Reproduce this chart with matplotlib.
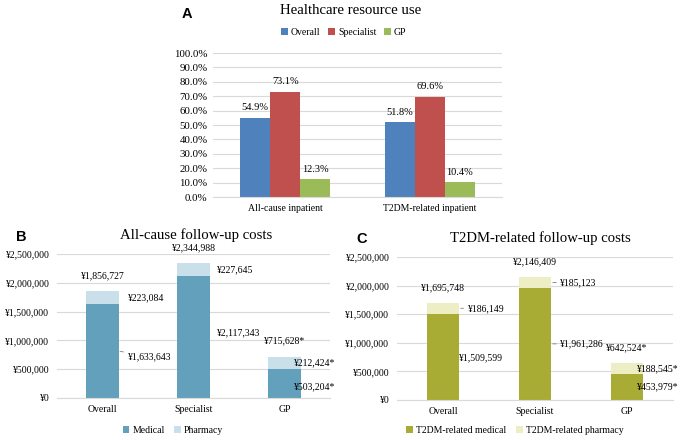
import matplotlib.pyplot as plt
import numpy as np
from matplotlib.ticker import FuncFormatter

plt.rcParams["font.family"] = ["Liberation Serif", "DejaVu Serif"]
plt.rcParams["font.size"] = 7.5

# Panel A: healthcare resource use (%)
use_groups = ["All-cause inpatient", "T2DM-related inpatient"]
use_overall = [54.9, 51.8]
use_specialist = [73.1, 69.6]
use_gp = [12.3, 10.4]

# Panel B: all-cause follow-up costs (yen)
cost_groups = ["Overall", "Specialist", "GP"]
allcause_medical = [1633643, 2117343, 503204]
allcause_pharmacy = [223084, 227645, 212424]
allcause_star = ["", "", "*"]

# Panel C: T2DM-related follow-up costs (yen)
t2dm_medical = [1509599, 1961286, 453979]
t2dm_pharmacy = [186149, 185123, 188545]
t2dm_star = ["", "", "*"]

fig = plt.figure(figsize=(6.85, 4.4), dpi=100)
grid_col = "#d9d9d9"


def clean(ax):
    for s in ["left", "right", "top"]:
        ax.spines[s].set_visible(False)
    ax.spines["bottom"].set_color(grid_col)
    ax.tick_params(length=0)
    ax.yaxis.grid(True, color=grid_col, linewidth=0.8)
    ax.set_axisbelow(True)


# ---- A ----
axA = fig.add_axes([0.311, 0.552, 0.422, 0.3275])
x = np.arange(len(use_groups))
w = 0.208
series = [("Overall", use_overall, "#4f81bd"),
          ("Specialist", use_specialist, "#c0504d"),
          ("GP", use_gp, "#9bbb59")]
for i, (name, vals, col) in enumerate(series):
    bars = axA.bar(x + (i - 1) * w, vals, w, color=col, label=name)
    for b, v in zip(bars, vals):
        axA.annotate(f"{v:.1f}%", (b.get_x() + b.get_width() / 2, v),
                     xytext=(0, 4), textcoords="offset points",
                     ha="center", va="bottom", fontsize=7.5)
axA.set_xlim(-0.5, 1.5)
axA.set_ylim(0, 100)
axA.set_yticks(np.arange(0, 101, 10))
axA.yaxis.set_major_formatter(FuncFormatter(lambda v, p: f"{v:.1f}%"))
axA.set_xticks(x)
axA.set_xticklabels(use_groups)
clean(axA)
axA.tick_params(axis="y", pad=4, labelsize=7.8)
axA.tick_params(axis="x", pad=5, labelsize=7)
fig.legend(*axA.get_legend_handles_labels(), loc="center", bbox_to_anchor=(0.502, 0.927),
           ncol=3, frameon=False, fontsize=7, handlelength=0.7, handleheight=0.7,
           handletextpad=0.3, columnspacing=0.8)
fig.text(351 / 685, 1 - 11 / 440, "Healthcare resource use", ha="center", va="center", fontsize=10.6)
fig.text(187 / 685, 1 - 14 / 440, "A", ha="center", va="center", fontsize=10.5,
         fontweight="bold", family="Liberation Sans")


def cost_panel(rect, medical, pharmacy, star, cols, names, title, letter, letter_x,
               title_x, legend_x, pharm_off, med_off, leaders):
    ax = fig.add_axes(rect)
    xc = np.arange(len(cost_groups))
    bw = 0.355
    ax.bar(xc, medical, bw, color=cols[0], label=names[0])
    ax.bar(xc, pharmacy, bw, bottom=medical, color=cols[1], label=names[1])
    for i in range(len(xc)):
        m, p = medical[i], pharmacy[i]
        right = xc[i] + bw / 2
        ax.annotate(f"¥{m + p:,}{star[i]}", (xc[i], m + p), xytext=(0, 8),
                    textcoords="offset points", ha="center", va="bottom", fontsize=7)
        for val, mid, off, lead in [(p, m + p / 2, pharm_off[i], leaders[i][0]),
                                    (m, m / 2, med_off[i], leaders[i][1])]:
            kw = {}
            if lead:
                kw["arrowprops"] = dict(arrowstyle="-", color="#7f7f7f", lw=0.6,
                                        shrinkA=1, shrinkB=1)
            ax.annotate(f"¥{val:,}{star[i]}", (right, mid), xytext=off,
                        textcoords="offset points", ha="left", va="center",
                        fontsize=7, **kw)
    ax.set_xlim(-0.5, 2.5)
    ax.set_ylim(0, 2500000)
    ax.set_yticks(np.arange(0, 2500001, 500000))
    ax.yaxis.set_major_formatter(FuncFormatter(lambda v, p: f"¥{int(v):,}"))
    ax.set_xticks(xc)
    ax.set_xticklabels(cost_groups)
    clean(ax)
    ax.tick_params(axis="y", pad=5.5, labelsize=7)
    ax.tick_params(axis="x", pad=5, labelsize=7)
    top = rect[1] + rect[3]
    fig.text(title_x, top + 0.043, title, ha="center", va="center", fontsize=10.6)
    fig.text(letter_x, top + 0.04, letter, ha="center", va="center", fontsize=10.5,
             fontweight="bold", family="Liberation Sans")
    fig.legend(*ax.get_legend_handles_labels(), loc="center", bbox_to_anchor=(legend_x, 0.022),
               ncol=2, frameon=False, fontsize=7, handlelength=0.7, handleheight=0.7,
               handletextpad=0.3, columnspacing=1.0)
    return ax


cost_panel([0.0832, 0.0955, 0.3986, 0.327], allcause_medical, allcause_pharmacy, allcause_star,
           ["#62a0bc", "#c9dfea"], ["Medical", "Pharmacy"], "All-cause follow-up costs",
           "B", 21 / 685, 196 / 685, 173 / 685,
           pharm_off=[(6.5, 0), (5, 0), (-5, 0)],
           med_off=[(6.5, -4.5), (5, 3), (-5, -2.5)],
           leaders=[(False, True), (False, False), (False, False)])

cost_panel([0.5796, 0.091, 0.403, 0.325], t2dm_medical, t2dm_pharmacy, t2dm_star,
           ["#a9ac34", "#eeeec4"], ["T2DM-related medical", "T2DM-related pharmacy"],
           "T2DM-related follow-up costs", "C", 362 / 685, 540 / 685, 515 / 685,
           pharm_off=[(6, 0), (6.5, 0), (-4.5, 0)],
           med_off=[(0, -1), (6.5, 0), (-4.5, 0)],
           leaders=[(True, False), (True, True), (False, False)])

fig.savefig("out.png", dpi=100)
